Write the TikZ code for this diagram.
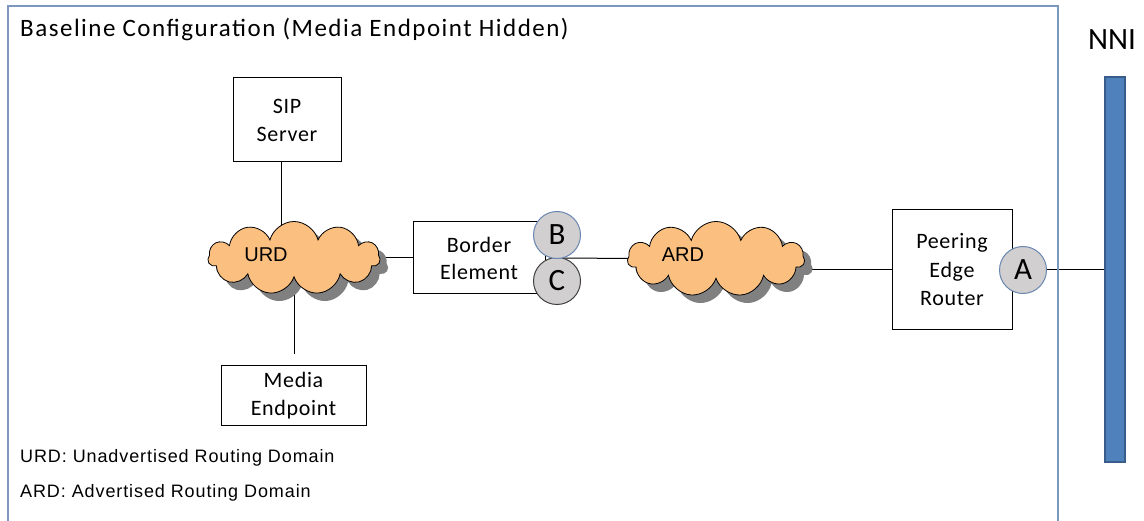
\documentclass[tikz,border=0pt]{standalone}
\usepackage{fontspec}
\setmainfont{Carlito}
\newfontfamily\boxf[LetterSpace=3]{Carlito}
\newfontfamily\titlef[LetterSpace=6]{Carlito}
\newfontfamily\arialf{Liberation Sans}
\newfontfamily\legf[LetterSpace=5]{Liberation Sans}
\usetikzlibrary{shapes.symbols,shadows,calc}
\pgfdeclarelayer{bg}
\pgfsetlayers{bg,main}
\definecolor{framecol}{RGB}{125,152,190}
\definecolor{cloudfill}{RGB}{251,191,128}
\definecolor{shadowgray}{RGB}{128,128,128}
\definecolor{circfill}{RGB}{209,207,207}
\definecolor{circblue}{RGB}{104,134,175}
\definecolor{circdark}{RGB}{64,64,64}
\definecolor{nnifill}{RGB}{79,129,189}
\definecolor{nnidraw}{RGB}{56,93,138}
\tikzset{
  boxnode/.style={draw, line width=1pt, fill=white, align=center, inner sep=0pt,
    font=\boxf\fontsize{22}{28}\selectfont},
  cloudnode/.style={cloud, cloud puffs=11, cloud ignores aspect, draw=black, line width=0.8pt,
    fill=cloudfill, inner sep=0pt,
    drop shadow={shadow xshift=8pt, shadow yshift=-8pt, fill=shadowgray, opacity=1}},
  cloudlabel/.style={font=\arialf\fontsize{20}{22}\selectfont, inner sep=0pt},
  portnode/.style={circle, fill=circfill, line width=1pt, minimum size=47pt, inner sep=0pt,
    font=\fontsize{31}{32}\selectfont},
  conn/.style={line width=1pt, black},
  legend/.style={font=\legf\fontsize{18}{20}\selectfont, anchor=west, inner sep=0pt}
}
\begin{document}
\begin{tikzpicture}[x=1pt,y=-1pt]
\useasboundingbox (0,0) rectangle (1144,521);
% outer frame
\draw[framecol, line width=1.5pt] (8,521) -- (8,6) -- (1058,6) -- (1058,521);
\node[anchor=west, inner sep=0pt, font=\titlef\fontsize{25}{27}\selectfont] (title) at (20,30) {Baseline Configuration (Media Endpoint Hidden)};
\node[inner sep=0pt, font=\fontsize{31}{32}\selectfont] (nnil) at (1112,40) {NNI};

% nodes
\node[boxnode, minimum width=108pt, minimum height=84pt] (sip) at (287,120) {SIP\\Server};
\node[cloudnode, minimum width=172pt, minimum height=73pt] (urd) at (294,258) {};
\node[cloudlabel] (urdl) at (266,255) {URD};
\node[boxnode, minimum width=145pt, minimum height=60pt] (me) at (293.5,396) {Media\\Endpoint};
\coordinate (mehid) at (294,354);
\node[boxnode, minimum width=132pt, minimum height=72pt, font=\boxf\fontsize{22}{27}\selectfont] (be) at (479,258) {Border\\Element};
\node[portnode, draw=circdark] (C) at (557,281) {C};
\node[portnode, draw=circblue] (B) at (557,235) {B};
\coordinate (bc) at ($(B)!0.5!(C)$);
\node[cloudnode, minimum width=177pt, minimum height=75pt] (ard) at (716,259) {};
\node[cloudlabel] (ardl) at (683,255) {ARD};
\node[boxnode, minimum width=120pt, minimum height=120pt, font=\boxf\fontsize{22}{28.5}\selectfont] (per) at (952,270) {Peering\\Edge\\Router};
\node[portnode, draw=circblue] (A) at (1023,270) {A};
\node[draw=nnidraw, fill=nnifill, line width=1.5pt, minimum width=20pt, minimum height=385pt, inner sep=0pt] (nni) at (1115,269.5) {};

% legend
\node[legend] (lg1) at (20,458) {URD: Unadvertised Routing Domain};
\node[legend] (lg2) at (20,493) {ARD: Advertised Routing Domain};

% connectors
\begin{pgfonlayer}{bg}
\draw[conn] (sip.south -| 281,0) -- (urd.center -| 281,0);
\draw[conn] (urd.center) -- (mehid);
\draw[conn] (urd.center) -- (be.west);
\draw[conn] (bc) -- (ard.center);
\draw[conn] (ard.center |- per.west) -- (per.west);
\draw[conn] (A) -- (A -| nni.center);
\end{pgfonlayer}
\end{tikzpicture}
\end{document}
